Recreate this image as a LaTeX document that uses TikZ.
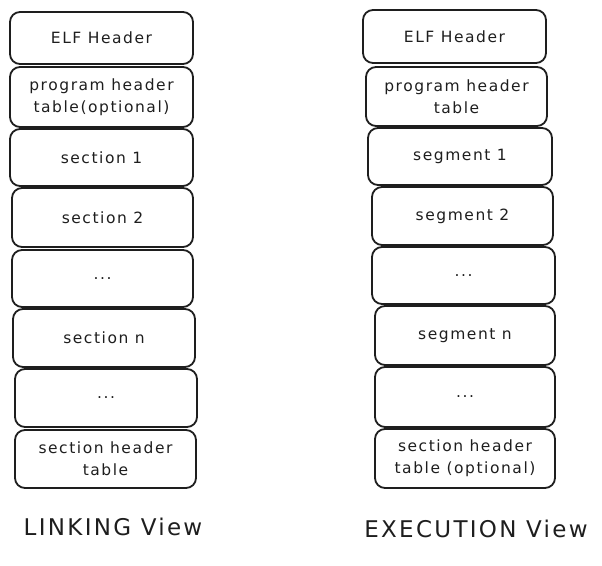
\documentclass[tikz,border=0pt]{standalone}
\usepackage{fontspec}
\setmainfont{DejaVu Sans}[LetterSpace=10]
\definecolor{ink}{HTML}{1E1E1E}
\begin{document}
\begin{tikzpicture}[x=1pt,y=-1pt,
  blk/.style={draw=ink, line width=1.8pt, rounded corners=10pt, inner sep=0pt, outer sep=0pt,
    text=ink, align=center, font=\fontsize{15.5}{22}\selectfont},
  viewlbl/.style={text=ink, font=\fontsize{23}{25}\selectfont, inner sep=0pt}]
\useasboundingbox (0,0) rectangle (602,565);
% linking view
\node[blk, minimum width=183, minimum height=52] (l1) at (101.5,38) {ELF Header};
\node[blk, minimum width=183, minimum height=60] (l2) at (101.5,97) {program header\\table(optional)};
\node[blk, minimum width=183, minimum height=57] (l3) at (101.5,157.5) {section 1};
\node[blk, minimum width=181, minimum height=59] (l4) at (102.5,217.5) {section 2};
\node[blk, minimum width=181, minimum height=57] (l5) at (102.5,278.5) {...};
\node[blk, minimum width=182, minimum height=58] (l6) at (104,338) {section n};
\node[blk, minimum width=182, minimum height=58] (l7) at (106,398) {...};
\node[blk, minimum width=181, minimum height=58] (l8) at (105.5,459) {section header\\table};
% execution view
\node[blk, minimum width=183, minimum height=53] (r1) at (454.5,36.5) {ELF Header};
\node[blk, minimum width=181, minimum height=59] (r2) at (456.5,96.5) {program header\\table};
\node[blk, minimum width=184, minimum height=57] (r3) at (460,156.5) {segment 1};
\node[blk, minimum width=181, minimum height=58] (r4) at (462.5,216) {segment 2};
\node[blk, minimum width=183, minimum height=57] (r5) at (463.5,275.5) {...};
\node[blk, minimum width=180, minimum height=59] (r6) at (465,335.5) {segment n};
\node[blk, minimum width=180, minimum height=60] (r7) at (465,397) {...};
\node[blk, minimum width=180, minimum height=59] (r8) at (465,458.5) {section header\\table (optional)};
% labels
\node[viewlbl] (lv) at (113,527) {LINKING View};
\node[viewlbl] (ev) at (476,529) {EXECUTION View};
\end{tikzpicture}
\end{document}
